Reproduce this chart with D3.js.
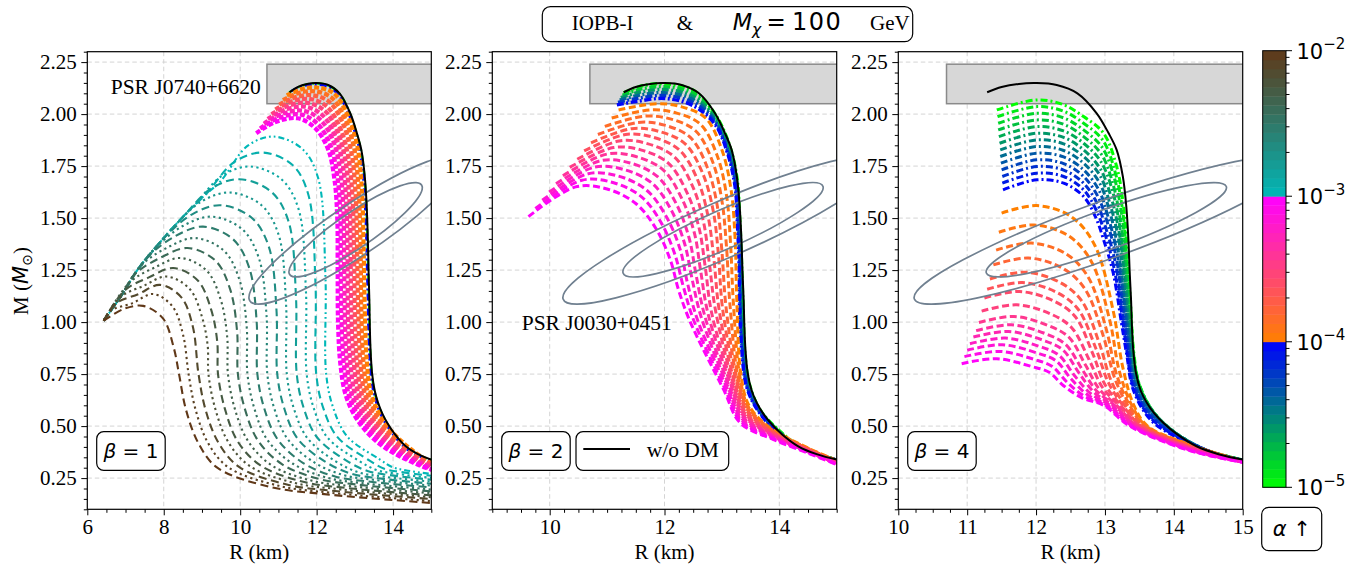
<!DOCTYPE html>
<html><head><meta charset="utf-8">
<script src="https://cdn.jsdelivr.net/npm/d3@7"></script>
<style>
html,body{margin:0;padding:0;background:#fff;}
svg{display:block;}
</style></head><body>
<svg id="fig" width="1371" height="567"></svg>
<script>
// ---------------- data : mass-radius sequences (R in km, M in solar masses) ----------------
// IOPB-I without dark matter
const noDM = [[11.29,2.105],[11.5,2.13],[11.75,2.145],[12.0,2.149],[12.3,2.14],[12.6,2.1],[12.88,2.004],[13.05,1.91],[13.17,1.828],[13.26,1.7],[13.31,1.556],[13.34,1.4],[13.36,1.236],[13.38,1.1],[13.39,0.996],[13.41,0.87],[13.45,0.755],[13.52,0.67],[13.61,0.611],[13.72,0.56],[13.85,0.515],[14.05,0.46],[14.33,0.403],[14.65,0.365],[15.0,0.339],[15.5,0.315]];

// beta = 1, alpha in [1e-5, 1e-4)
const alphaB1lo = [1.0e-5, 9.5e-5];
const curvesB1lo = [
 [[11.28,2.104],[11.5,2.128],[11.75,2.143],[12.0,2.147],[12.3,2.138],[12.6,2.098],[12.87,2.003],[13.04,1.909],[13.16,1.827],[13.25,1.7],[13.3,1.556],[13.33,1.4],[13.35,1.236],[13.37,1.1],[13.38,0.996],[13.4,0.87],[13.44,0.755],[13.51,0.668],[13.6,0.609],[13.71,0.558],[13.84,0.513],[14.04,0.458],[14.32,0.401],[14.64,0.363],[15.0,0.337],[15.5,0.313]],
 [[11.33,2.11],[11.55,2.13],[11.8,2.14],[12.0,2.142],[12.3,2.132],[12.58,2.09],[12.85,1.995],[13.02,1.9],[13.13,1.82],[13.22,1.69],[13.27,1.55],[13.3,1.4],[13.32,1.236],[13.34,1.1],[13.35,0.996],[13.37,0.87],[13.41,0.755],[13.48,0.67],[13.57,0.608],[13.68,0.556],[13.81,0.511],[14.02,0.455],[14.3,0.398],[14.63,0.36],[15.0,0.334],[15.5,0.311]]
];

// beta = 1, alpha in [1e-4, 1e-3)
const alphaB1mid = [1.0e-4, 1.33e-4, 1.76e-4, 2.33e-4, 3.09e-4, 4.1e-4, 5.43e-4, 7.2e-4, 9.55e-4];
const curvesB1mid = [
 [[11.22,2.09],[11.6,2.12],[12.0,2.128],[12.45,2.1],[12.8,2.0],[13.05,1.86],[13.18,1.65],[13.23,1.35],[13.26,1.05],[13.31,0.82],[13.42,0.66],[13.7,0.54],[14.2,0.43],[15,0.327],[15.5,0.31]],
 [[11.12,2.067],[11.51,2.1],[11.94,2.11],[12.39,2.079],[12.74,1.979],[12.98,1.838],[13.1,1.631],[13.15,1.338],[13.17,1.044],[13.22,0.818],[13.34,0.658],[13.63,0.537],[14.14,0.427],[15,0.322],[15.5,0.306]],
 [[11.02,2.045],[11.43,2.08],[11.88,2.091],[12.33,2.059],[12.68,1.958],[12.91,1.815],[13.02,1.613],[13.06,1.325],[13.09,1.038],[13.14,0.815],[13.26,0.656],[13.56,0.534],[14.08,0.423],[15,0.318],[15.5,0.301]],
 [[10.92,2.022],[11.34,2.06],[11.81,2.073],[12.26,2.038],[12.61,1.936],[12.83,1.793],[12.94,1.594],[12.98,1.313],[13.0,1.031],[13.05,0.813],[13.18,0.654],[13.48,0.531],[14.02,0.42],[15,0.313],[15.5,0.297]],
 [[10.82,1.999],[11.25,2.04],[11.75,2.054],[12.2,2.018],[12.55,1.915],[12.76,1.77],[12.86,1.575],[12.89,1.3],[12.91,1.025],[12.97,0.81],[13.1,0.652],[13.41,0.528],[13.97,0.417],[15,0.309],[15.5,0.293]],
 [[10.72,1.976],[11.16,2.02],[11.69,2.036],[12.14,1.997],[12.49,1.894],[12.69,1.748],[12.78,1.556],[12.81,1.288],[12.82,1.019],[12.88,0.808],[13.01,0.649],[13.34,0.524],[13.91,0.413],[15,0.304],[15.5,0.288]],
 [[10.62,1.954],[11.08,2.0],[11.63,2.017],[12.08,1.976],[12.43,1.873],[12.62,1.725],[12.7,1.538],[12.72,1.275],[12.74,1.013],[12.79,0.805],[12.93,0.647],[13.27,0.521],[13.85,0.41],[15,0.3],[15.5,0.284]],
 [[10.52,1.931],[10.99,1.98],[11.56,1.999],[12.01,1.956],[12.36,1.851],[12.54,1.703],[12.62,1.519],[12.63,1.263],[12.65,1.006],[12.71,0.803],[12.85,0.645],[13.19,0.518],[13.79,0.406],[15,0.295],[15.5,0.279]],
 [[10.42,1.908],[10.9,1.96],[11.5,1.98],[11.95,1.935],[12.3,1.83],[12.47,1.68],[12.54,1.5],[12.55,1.25],[12.56,1.0],[12.62,0.8],[12.77,0.643],[13.12,0.515],[13.73,0.403],[15,0.29],[15.5,0.275]]
];

// beta = 1, alpha in [1e-3, 1e-2]
const alphaB1hi = [1.0e-3, 1.17e-3, 1.36e-3, 1.58e-3, 1.85e-3, 2.15e-3, 2.51e-3, 2.93e-3, 3.41e-3, 3.98e-3, 4.64e-3, 5.41e-3, 6.31e-3, 7.36e-3, 8.58e-3, 1.0e-2];
const curvesB1hi = [
 [[6.43,1.007],[6.9,1.13],[7.3,1.248],[7.75,1.35],[8.17,1.44],[8.6,1.525],[9.04,1.604],[9.5,1.68],[10.19,1.847],[10.87,1.892],[11.63,1.832],[12.04,1.692],[12.23,1.221],[12.25,0.75],[12.43,0.59],[12.8,0.45],[13.65,0.34],[13.99,0.302],[14.33,0.288],[15,0.27],[15.6,0.26]],
 [[6.43,1.007],[6.9,1.13],[7.3,1.248],[7.75,1.35],[8.17,1.44],[8.6,1.525],[9.1,1.614],[9.85,1.77],[10.6,1.815],[11.37,1.755],[11.78,1.615],[11.97,1.183],[11.99,0.75],[12.17,0.589],[12.54,0.448],[13.36,0.337],[13.77,0.295],[14.18,0.28],[15,0.261],[15.6,0.251]],
 [[6.43,1.007],[6.9,1.13],[7.3,1.248],[7.75,1.35],[8.17,1.44],[8.78,1.557],[9.52,1.703],[10.25,1.748],[11.07,1.688],[11.52,1.548],[11.72,1.149],[11.74,0.75],[11.92,0.589],[12.28,0.446],[13.09,0.335],[13.57,0.289],[14.05,0.272],[15,0.251],[15.6,0.241]],
 [[6.43,1.007],[6.9,1.13],[7.3,1.248],[7.75,1.35],[8.17,1.44],[8.5,1.505],[9.24,1.642],[9.98,1.687],[10.81,1.627],[11.26,1.487],[11.46,1.119],[11.48,0.75],[11.66,0.588],[12.02,0.444],[12.8,0.332],[13.35,0.283],[13.9,0.265],[15,0.242],[15.6,0.232]],
 [[6.43,1.007],[6.9,1.13],[7.3,1.248],[7.75,1.35],[8.22,1.45],[8.97,1.578],[9.72,1.623],[10.55,1.563],[11.0,1.423],[11.2,1.087],[11.22,0.75],[11.4,0.587],[11.76,0.442],[12.51,0.329],[13.13,0.276],[13.76,0.257],[15,0.233],[15.6,0.223]],
 [[6.43,1.007],[6.9,1.13],[7.3,1.248],[7.98,1.399],[8.73,1.517],[9.48,1.562],[10.3,1.502],[10.75,1.362],[10.95,1.056],[10.97,0.75],[11.15,0.587],[11.5,0.44],[12.24,0.327],[12.93,0.27],[13.62,0.249],[15,0.223],[15.6,0.213]],
 [[6.43,1.007],[6.9,1.13],[7.3,1.248],[7.76,1.353],[8.5,1.462],[9.25,1.507],[10.05,1.447],[10.49,1.307],[10.69,1.029],[10.71,0.75],[10.89,0.586],[11.24,0.438],[11.95,0.324],[12.71,0.264],[13.48,0.242],[15,0.214],[15.6,0.204]],
 [[6.43,1.007],[6.9,1.13],[7.59,1.314],[8.31,1.414],[9.03,1.459],[9.81,1.399],[10.24,1.259],[10.43,1.005],[10.45,0.75],[10.63,0.585],[10.98,0.436],[11.66,0.321],[12.5,0.257],[13.33,0.234],[15,0.205],[15.6,0.195]],
 [[6.43,1.007],[6.9,1.13],[7.39,1.269],[8.1,1.359],[8.82,1.404],[9.57,1.344],[9.98,1.204],[10.17,0.977],[10.19,0.75],[10.37,0.585],[10.71,0.434],[11.38,0.319],[12.29,0.251],[13.19,0.226],[15,0.195],[15.6,0.185]],
 [[6.43,1.007],[6.9,1.13],[7.24,1.23],[7.93,1.311],[8.62,1.356],[9.35,1.296],[9.74,1.156],[9.92,0.953],[9.94,0.75],[10.12,0.584],[10.46,0.432],[11.1,0.316],[12.08,0.245],[13.05,0.219],[15,0.186],[15.6,0.176]],
 [[6.43,1.007],[7.11,1.191],[7.77,1.263],[8.43,1.308],[9.12,1.248],[9.49,1.108],[9.66,0.929],[9.68,0.75],[9.86,0.583],[10.2,0.43],[10.81,0.313],[11.86,0.238],[12.91,0.211],[15,0.177],[15.6,0.167]],
 [[6.43,1.007],[6.98,1.153],[7.61,1.215],[8.25,1.26],[8.89,1.2],[9.24,1.06],[9.4,0.905],[9.42,0.75],[9.6,0.583],[9.93,0.428],[10.53,0.311],[11.65,0.232],[12.77,0.203],[15,0.167],[15.6,0.157]],
 [[6.43,1.007],[6.87,1.121],[7.47,1.174],[8.07,1.219],[8.68,1.159],[9.01,1.019],[9.15,0.885],[9.17,0.75],[9.35,0.582],[9.68,0.426],[10.25,0.308],[11.44,0.226],[12.63,0.196],[15,0.158],[15.6,0.148]],
 [[6.43,1.007],[6.75,1.09],[7.33,1.134],[7.9,1.179],[8.46,1.119],[8.76,0.979],[8.91,0.75],[9.09,0.581],[9.42,0.424],[9.96,0.305],[11.22,0.219],[12.48,0.188],[15,0.149],[15.6,0.139]],
 [[6.43,1.007],[6.62,1.056],[7.17,1.09],[7.72,1.135],[8.23,1.075],[8.51,0.935],[8.65,0.75],[8.83,0.581],[9.15,0.422],[9.68,0.303],[11.01,0.213],[12.34,0.18],[15,0.139],[15.6,0.129]],
 [[6.43,1.007],[6.95,1.063],[7.46,1.078],[7.98,1.018],[8.26,0.878],[8.4,0.75],[8.58,0.58],[8.9,0.42],[9.4,0.3],[10.8,0.207],[12.2,0.173],[15,0.13],[15.6,0.12]]
];

// beta = 2, alpha in [1e-5, 1e-4)
const alphaB2lo = [1.0e-5, 1.57e-5, 2.47e-5, 3.87e-5, 6.08e-5, 9.55e-5];
const curvesB2lo = [
 [[11.29,2.102],[11.6,2.135],[12.0,2.146],[12.5,2.115],[12.88,2.0],[13.12,1.86],[13.26,1.697],[13.31,1.5],[13.34,1.3],[13.37,1.05],[13.4,0.85],[13.48,0.7],[13.66,0.58],[13.95,0.49],[14.4,0.395],[15,0.337]],
 [[11.27,2.09],[11.58,2.12],[12.0,2.132],[12.5,2.1],[12.88,1.99],[13.12,1.85],[13.25,1.688],[13.3,1.494],[13.33,1.294],[13.36,1.05],[13.39,0.85],[13.47,0.7],[13.64,0.584],[13.93,0.492],[14.38,0.396],[15,0.337]],
 [[11.24,2.079],[11.56,2.105],[12.0,2.118],[12.5,2.085],[12.88,1.98],[13.11,1.84],[13.25,1.678],[13.29,1.488],[13.32,1.288],[13.35,1.05],[13.38,0.85],[13.46,0.7],[13.62,0.588],[13.91,0.494],[14.36,0.398],[15,0.337]],
 [[11.22,2.067],[11.54,2.09],[12.0,2.103],[12.5,2.07],[12.88,1.97],[13.11,1.83],[13.24,1.669],[13.29,1.482],[13.32,1.282],[13.33,1.05],[13.37,0.85],[13.44,0.7],[13.61,0.592],[13.89,0.496],[14.34,0.4],[15,0.336]],
 [[11.19,2.056],[11.52,2.075],[12.0,2.089],[12.5,2.055],[12.88,1.96],[13.1,1.82],[13.24,1.66],[13.28,1.476],[13.31,1.276],[13.32,1.05],[13.36,0.85],[13.43,0.7],[13.59,0.596],[13.87,0.498],[14.32,0.402],[15,0.336]],
 [[11.17,2.044],[11.5,2.06],[12.0,2.075],[12.5,2.04],[12.88,1.95],[13.1,1.81],[13.23,1.65],[13.27,1.47],[13.3,1.27],[13.31,1.05],[13.35,0.85],[13.42,0.7],[13.57,0.6],[13.85,0.5],[14.3,0.402],[15,0.336]]
];

// beta = 2, alpha in [1e-4, 1e-3)
const alphaB2mid = [1.0e-4, 1.19e-4, 1.42e-4, 1.69e-4, 2.01e-4, 2.39e-4, 2.85e-4, 3.39e-4, 4.03e-4, 4.8e-4, 5.72e-4, 6.8e-4, 8.1e-4, 9.64e-4];
const curvesB2mid = [
 [[11.2,2.02],[11.87,2.05],[12.3,2.035],[12.72,1.98],[13.0,1.828],[13.16,1.636],[13.23,1.4],[13.26,1.1],[13.33,0.75],[13.47,0.6],[13.8,0.5],[14.5,0.395],[15,0.335]],
 [[11.08,1.981],[11.76,2.02],[12.2,2.006],[12.63,1.95],[12.92,1.799],[13.08,1.61],[13.15,1.381],[13.2,1.092],[13.31,0.744],[13.46,0.593],[13.81,0.495],[14.5,0.393],[15,0.333]],
 [[10.96,1.941],[11.65,1.99],[12.1,1.977],[12.54,1.92],[12.84,1.77],[13.0,1.584],[13.08,1.362],[13.14,1.085],[13.28,0.738],[13.45,0.587],[13.82,0.49],[14.5,0.391],[15,0.332]],
 [[10.84,1.902],[11.54,1.96],[12.0,1.947],[12.45,1.888],[12.75,1.741],[12.92,1.558],[13.0,1.342],[13.07,1.077],[13.26,0.733],[13.44,0.58],[13.82,0.485],[14.5,0.389],[15,0.331]],
 [[10.72,1.862],[11.43,1.93],[11.9,1.917],[12.36,1.857],[12.67,1.712],[12.85,1.533],[12.94,1.323],[13.01,1.069],[13.24,0.727],[13.43,0.574],[13.83,0.48],[14.5,0.388],[15,0.329]],
 [[10.6,1.823],[11.32,1.902],[11.8,1.889],[12.26,1.827],[12.58,1.682],[12.76,1.507],[12.86,1.304],[12.95,1.062],[13.21,0.721],[13.41,0.567],[13.84,0.475],[14.5,0.386],[15,0.327]],
 [[10.48,1.783],[11.21,1.871],[11.7,1.858],[12.17,1.795],[12.49,1.653],[12.68,1.481],[12.78,1.285],[12.89,1.054],[13.19,0.715],[13.4,0.561],[13.85,0.47],[14.5,0.384],[15,0.326]],
 [[10.35,1.744],[11.11,1.839],[11.6,1.827],[12.07,1.763],[12.39,1.624],[12.6,1.455],[12.71,1.265],[12.82,1.046],[13.17,0.71],[13.39,0.554],[13.85,0.465],[14.5,0.382],[15,0.324]],
 [[10.23,1.704],[11.0,1.808],[11.5,1.796],[11.98,1.731],[12.3,1.595],[12.52,1.429],[12.63,1.246],[12.76,1.038],[13.15,0.704],[13.38,0.548],[13.86,0.46],[14.5,0.38],[15,0.323]],
 [[10.11,1.665],[10.89,1.776],[11.4,1.765],[11.88,1.699],[12.21,1.566],[12.43,1.403],[12.55,1.227],[12.7,1.031],[13.12,0.698],[13.37,0.541],[13.87,0.455],[14.5,0.378],[15,0.321]],
 [[9.99,1.625],[10.78,1.745],[11.3,1.733],[11.79,1.666],[12.12,1.537],[12.35,1.378],[12.48,1.208],[12.64,1.023],[13.1,0.692],[13.35,0.535],[13.88,0.45],[14.5,0.377],[15,0.32]],
 [[9.87,1.586],[10.67,1.713],[11.2,1.702],[11.69,1.634],[12.03,1.508],[12.27,1.352],[12.4,1.188],[12.57,1.015],[13.08,0.687],[13.34,0.528],[13.88,0.445],[14.5,0.375],[15,0.318]],
 [[9.75,1.546],[10.56,1.682],[11.1,1.671],[11.6,1.602],[11.94,1.479],[12.18,1.326],[12.33,1.169],[12.51,1.008],[13.05,0.681],[13.33,0.522],[13.89,0.44],[14.5,0.373],[15,0.317]],
 [[9.63,1.507],[10.45,1.65],[11.0,1.64],[11.5,1.57],[11.85,1.45],[12.1,1.3],[12.25,1.15],[12.45,1.0],[13.03,0.675],[13.32,0.515],[13.9,0.435],[14.49,0.371],[15,0.315]]
];

// beta = 4, alpha in [1e-5, 1e-4)
const alphaB4lo = [1.0e-5, 1.21e-5, 1.46e-5, 1.76e-5, 2.12e-5, 2.56e-5, 3.09e-5, 3.73e-5, 4.51e-5, 5.44e-5, 6.56e-5, 7.92e-5, 9.56e-5];
const curvesB4lo = [
 [[11.43,2.02],[12.01,2.068],[12.4,2.045],[12.69,1.988],[12.98,1.908],[13.17,1.748],[13.27,1.556],[13.32,1.363],[13.37,1.1],[13.42,0.85],[13.5,0.7],[13.75,0.545],[14.33,0.402],[15,0.338]],
 [[11.44,1.988],[12.01,2.036],[12.4,2.014],[12.69,1.956],[12.97,1.874],[13.15,1.719],[13.26,1.529],[13.31,1.332],[13.37,1.078],[13.42,0.835],[13.51,0.686],[13.78,0.536],[14.35,0.399],[15,0.338]],
 [[11.45,1.956],[12.01,2.004],[12.4,1.982],[12.69,1.924],[12.96,1.84],[13.14,1.689],[13.25,1.503],[13.31,1.302],[13.36,1.056],[13.42,0.821],[13.53,0.672],[13.81,0.527],[14.38,0.396],[15,0.337]],
 [[11.45,1.924],[12.01,1.972],[12.4,1.951],[12.69,1.892],[12.95,1.806],[13.12,1.66],[13.23,1.476],[13.3,1.271],[13.36,1.034],[13.42,0.806],[13.54,0.658],[13.84,0.518],[14.4,0.394],[15,0.337]],
 [[11.46,1.892],[12.01,1.94],[12.4,1.919],[12.69,1.86],[12.94,1.772],[13.11,1.631],[13.22,1.449],[13.29,1.24],[13.35,1.012],[13.42,0.792],[13.55,0.644],[13.87,0.508],[14.42,0.391],[15,0.337]],
 [[11.47,1.86],[12.01,1.908],[12.4,1.888],[12.69,1.828],[12.93,1.738],[13.09,1.601],[13.21,1.423],[13.29,1.21],[13.35,0.99],[13.42,0.777],[13.57,0.63],[13.9,0.499],[14.44,0.388],[15,0.336]],
 [[11.48,1.828],[12.01,1.876],[12.4,1.857],[12.69,1.796],[12.93,1.704],[13.07,1.572],[13.2,1.396],[13.28,1.179],[13.35,0.968],[13.41,0.763],[13.58,0.616],[13.93,0.49],[14.47,0.385],[15,0.336]],
 [[11.48,1.796],[12.01,1.844],[12.4,1.825],[12.69,1.764],[12.92,1.67],[13.06,1.543],[13.18,1.369],[13.27,1.148],[13.34,0.945],[13.41,0.748],[13.59,0.601],[13.95,0.481],[14.49,0.382],[15,0.335]],
 [[11.49,1.764],[12.01,1.812],[12.4,1.794],[12.69,1.732],[12.91,1.636],[13.04,1.513],[13.17,1.343],[13.27,1.118],[13.34,0.923],[13.41,0.733],[13.61,0.587],[13.98,0.472],[14.51,0.379],[15,0.335]],
 [[11.5,1.732],[12.01,1.78],[12.4,1.762],[12.69,1.7],[12.9,1.602],[13.03,1.484],[13.16,1.316],[13.26,1.087],[13.33,0.901],[13.41,0.719],[13.62,0.573],[14.01,0.463],[14.53,0.377],[15,0.334]],
 [[11.51,1.7],[12.01,1.748],[12.4,1.731],[12.69,1.668],[12.89,1.568],[13.01,1.455],[13.15,1.289],[13.25,1.056],[13.33,0.879],[13.41,0.704],[13.63,0.559],[14.04,0.453],[14.56,0.374],[15,0.334]],
 [[11.51,1.668],[12.01,1.716],[12.4,1.7],[12.69,1.636],[12.88,1.534],[13.0,1.425],[13.13,1.263],[13.25,1.026],[13.32,0.857],[13.41,0.69],[13.65,0.545],[14.07,0.444],[14.58,0.371],[15,0.333]],
 [[11.52,1.636],[12.01,1.684],[12.4,1.668],[12.69,1.604],[12.87,1.5],[12.98,1.396],[13.12,1.236],[13.24,0.995],[13.32,0.835],[13.41,0.675],[13.66,0.531],[14.1,0.435],[14.6,0.368],[15,0.333]]
];

// beta = 4, alpha in [1e-4, 1e-3)
const alphaB4mid = [1.0e-4, 1.18e-4, 1.38e-4, 1.62e-4, 1.91e-4, 2.24e-4, 2.63e-4, 3.09e-4, 3.63e-4, 4.27e-4, 5.01e-4, 5.89e-4, 6.92e-4, 8.13e-4, 9.55e-4];
const curvesB4mid = [
 [[11.5,1.524],[12.01,1.56],[12.51,1.507],[12.85,1.371],[13.12,1.054],[13.26,0.781],[13.42,0.6],[13.62,0.5],[14.2,0.415],[15,0.332]],
 [[11.46,1.432],[11.97,1.467],[12.47,1.415],[12.8,1.293],[13.07,1.008],[13.21,0.763],[13.39,0.6],[13.6,0.5],[14.2,0.413],[15,0.332]],
 [[11.42,1.346],[11.93,1.38],[12.43,1.329],[12.75,1.22],[13.02,0.965],[13.17,0.746],[13.36,0.6],[13.58,0.5],[14.2,0.411],[15,0.331]],
 [[11.38,1.275],[11.89,1.308],[12.39,1.258],[12.71,1.159],[12.98,0.929],[13.14,0.732],[13.33,0.6],[13.56,0.5],[14.2,0.409],[15,0.331]],
 [[11.33,1.207],[11.84,1.24],[12.34,1.192],[12.66,1.103],[12.92,0.896],[13.09,0.718],[13.29,0.6],[13.55,0.5],[14.2,0.406],[15,0.33]],
 [[11.29,1.158],[11.8,1.19],[12.3,1.143],[12.61,1.062],[12.87,0.872],[13.05,0.709],[13.26,0.6],[13.53,0.5],[14.2,0.404],[15,0.33]],
 [[11.25,1.116],[11.76,1.147],[12.26,1.101],[12.57,1.026],[12.82,0.851],[13.0,0.7],[13.23,0.6],[13.51,0.5],[14.2,0.402],[15,0.329]],
 [[11.21,1.053],[11.72,1.083],[12.22,1.038],[12.52,0.972],[12.77,0.819],[12.96,0.688],[13.2,0.6],[13.49,0.5],[14.2,0.4],[15,0.329]],
 [[11.17,0.998],[11.68,1.027],[12.18,0.983],[12.48,0.926],[12.72,0.792],[12.92,0.677],[13.17,0.6],[13.47,0.5],[14.2,0.398],[15,0.329]],
 [[11.13,0.959],[11.64,0.987],[12.14,0.944],[12.43,0.892],[12.67,0.772],[12.88,0.669],[13.14,0.6],[13.45,0.5],[14.2,0.396],[15,0.328]],
 [[11.09,0.928],[11.6,0.955],[12.1,0.913],[12.39,0.866],[12.62,0.757],[12.84,0.663],[13.11,0.6],[13.43,0.5],[14.2,0.394],[15,0.328]],
 [[11.04,0.896],[11.55,0.923],[12.05,0.883],[12.33,0.841],[12.56,0.742],[12.79,0.657],[13.07,0.6],[13.42,0.5],[14.2,0.391],[15,0.327]],
 [[11.0,0.865],[11.51,0.891],[12.01,0.852],[12.29,0.814],[12.51,0.726],[12.75,0.65],[13.04,0.6],[13.4,0.5],[14.2,0.389],[15,0.327]],
 [[10.96,0.834],[11.47,0.859],[11.97,0.821],[12.23,0.788],[12.45,0.711],[12.7,0.644],[13.01,0.6],[13.38,0.5],[14.2,0.387],[15,0.326]],
 [[10.92,0.8],[11.43,0.824],[11.93,0.787],[12.19,0.759],[12.4,0.694],[12.66,0.637],[12.98,0.6],[13.36,0.5],[14.2,0.385],[15,0.326]]
];

// observational constraints
const psrJ0740 = [10.7, 16.0, 2.05, 2.24];                 // R min, R max, M min, M max
const psrJ0030Centre = [13.02, 1.444];                      // R, M
const psrJ0030Inner = [[1.742, 0.208], [0.099, -0.090]];   // conjugate semi-axes (dR, dM)
const psrJ0030Outer = [[2.787, 0.333], [0.144, -0.130]];

// axes
const xTicksB1 = [6, 8, 10, 12, 14];
const xTicksB2 = [10, 12, 14];
const xTicksB4 = [10, 11, 12, 13, 14, 15];
const yTicks = [0.25, 0.50, 0.75, 1.00, 1.25, 1.50, 1.75, 2.00, 2.25];
const cbTicks = [1e-5, 1e-4, 1e-3, 1e-2];
const betaLabels = ['1', '2', '4'];

// ---------------- drawing ----------------
const SERIF = '"Liberation Serif","Times New Roman",serif';
const SANS = '"DejaVu Sans",sans-serif';
const svg = d3.select('#fig');

const plotTop = 51.7, plotBottom = 509.3;
const y = d3.scaleLinear().domain([0.1, 2.3]).range([plotBottom, plotTop]);

// piecewise colour map: one linear ramp per decade of alpha
const ramps = {
  '-5': [[0, 255, 0], [0, 0, 255]],
  '-4': [[255, 128, 0], [255, 0, 255]],
  '-3': [[0, 184, 184], [96, 56, 24]]
};
function alphaColor(a) {
  const l = Math.log10(a);
  let d = Math.floor(l + 1e-9), f = l - d;
  if (d >= -2) { d = -3; f = 1; }
  if (d < -5) { d = -5; f = 0; }
  if (f < 0) f = 0;
  const [c0, c1] = ramps[String(d)];
  return d3.rgb(c0[0] + (c1[0] - c0[0]) * f, c0[1] + (c1[1] - c0[1]) * f, c0[2] + (c1[2] - c0[2]) * f).formatHex();
}

const dashes = {
  dashed: '7,3.5',
  dashedThick: '5,2.2',
  dashdot: '7,3,2,3',
  dotted: '2.2,3.4',
  dashdotdot: '6,3,1.8,3,1.8,3',
  longdash: '8,4.5'
};

const panels = [
  { x0: 87.3, x1: 431.3, dom: [6, 15], ticks: xTicksB1, minor: 0.5,
    groups: [
      { curves: curvesB1lo, alphas: alphaB1lo, width: 2.4, dash: () => dashes.dashdot },
      { curves: curvesB1mid, alphas: alphaB1mid, width: 4.2, dash: () => dashes.dashedThick },
      { curves: curvesB1hi, alphas: alphaB1hi, width: 2.1, dash: i => i === 0 ? dashes.dashdotdot : (i % 2 ? dashes.longdash : dashes.dotted) }
    ] },
  { x0: 492.3, x1: 836.7, dom: [9, 15], ticks: xTicksB2, minor: 0.25,
    groups: [
      { curves: curvesB2lo, alphas: alphaB2lo, width: 3.4, dash: () => '7,2.5,2,2.5' },
      { curves: curvesB2mid, alphas: alphaB2mid, width: 3.0, dash: () => dashes.dashed }
    ] },
  { x0: 898.3, x1: 1242.7, dom: [10, 15], ticks: xTicksB4, minor: 0.25,
    groups: [
      { curves: curvesB4lo, alphas: alphaB4lo, width: 3.0, dash: () => dashes.dashdot },
      { curves: curvesB4mid, alphas: alphaB4mid, width: 3.0, dash: () => dashes.dashed }
    ] }
];

panels.forEach((p, pi) => {
  const x = d3.scaleLinear().domain(p.dom).range([p.x0, p.x1]);
  const g = svg.append('g');
  const clipId = 'clip' + pi;
  svg.append('clipPath').attr('id', clipId).append('rect')
    .attr('x', p.x0).attr('y', plotTop).attr('width', p.x1 - p.x0).attr('height', plotBottom - plotTop);

  // grid
  const grid = g.append('g').attr('stroke', '#cfcfcf').attr('stroke-width', 0.9).attr('stroke-dasharray', '4.5,3');
  p.ticks.filter(t => t > p.dom[0] && t < p.dom[1]).forEach(t => {
    grid.append('line').attr('x1', x(t)).attr('x2', x(t)).attr('y1', plotTop).attr('y2', plotBottom);
  });
  yTicks.forEach(t => {
    grid.append('line').attr('x1', p.x0).attr('x2', p.x1).attr('y1', y(t)).attr('y2', y(t));
  });

  const inner = g.append('g').attr('clip-path', `url(#${clipId})`);

  // PSR J0740+6620 mass band
  inner.append('rect')
    .attr('x', x(psrJ0740[0])).attr('y', y(psrJ0740[3]))
    .attr('width', x(psrJ0740[1]) - x(psrJ0740[0])).attr('height', y(psrJ0740[2]) - y(psrJ0740[3]))
    .attr('fill', '#d7d7d7').attr('stroke', '#8a8a8a').attr('stroke-width', 1.5);

  // dark-matter admixed sequences
  const line = d3.line().x(d => x(d[0])).y(d => y(d[1])).curve(d3.curveCatmullRom.alpha(0.5));
  p.groups.forEach(gr => {
    inner.append('g').selectAll('path').data(gr.curves).join('path')
      .attr('d', line)
      .attr('fill', 'none')
      .attr('stroke', (d, i) => alphaColor(gr.alphas[i]))
      .attr('stroke-width', gr.width)
      .attr('stroke-dasharray', (d, i) => gr.dash(i));
  });

  // PSR J0030+0451 contours
  const kx = x(1) - x(0), ky = y(1) - y(0);
  [psrJ0030Inner, psrJ0030Outer].forEach(ax => {
    inner.append('circle').attr('cx', 0).attr('cy', 0).attr('r', 1)
      .attr('transform', `matrix(${kx * ax[0][0]},${ky * ax[0][1]},${kx * ax[1][0]},${ky * ax[1][1]},${x(psrJ0030Centre[0])},${y(psrJ0030Centre[1])})`)
      .attr('fill', 'none').attr('stroke', '#708090').attr('stroke-width', 1.7)
      .attr('vector-effect', 'non-scaling-stroke');
  });

  // no dark matter
  inner.append('path').datum(noDM).attr('d', line)
    .attr('fill', 'none').attr('stroke', '#000').attr('stroke-width', 2);

  // axes
  const xAxis = d3.axisBottom(x).tickValues(p.ticks).tickSize(6).tickPadding(4).tickFormat(d3.format('d'));
  const xMinor = d3.axisBottom(x).tickValues(d3.range(p.dom[0], p.dom[1] + 1e-6, p.minor).filter(v => !p.ticks.includes(v))).tickSize(3.5).tickFormat('');
  const yAxis = d3.axisLeft(y).tickValues(yTicks).tickSize(6).tickPadding(4.5).tickFormat(d3.format('.2f'));
  const yMinor = d3.axisLeft(y).tickValues(d3.range(0.1, 2.3001, 0.05).map(v => +v.toFixed(2)).filter(v => !yTicks.some(t => Math.abs(t - v) < 1e-6))).tickSize(3.5).tickFormat('');

  [[xAxis, 'b'], [xMinor, 'b'], [yAxis, 'l'], [yMinor, 'l']].forEach(([ax, side]) => {
    const a = g.append('g')
      .attr('transform', side === 'b' ? `translate(0,${plotBottom})` : `translate(${p.x0},0)`)
      .call(ax);
    a.select('.domain').remove();
    a.selectAll('line').attr('stroke', '#000').attr('stroke-width', 1);
    a.selectAll('text').attr('font-family', SERIF).attr('font-size', 21).attr('fill', '#000');
  });

  g.append('rect').attr('x', p.x0).attr('y', plotTop).attr('width', p.x1 - p.x0).attr('height', plotBottom - plotTop)
    .attr('fill', 'none').attr('stroke', '#000').attr('stroke-width', 1.2);

  // x label
  g.append('text').attr('x', (p.x0 + p.x1) / 2).attr('y', 558.5).attr('text-anchor', 'middle')
    .attr('font-family', SERIF).attr('font-size', 21).text('R (km)');

  // beta label box
  const bx = p.x0 + 9.4, by = 431.7, bw = 68.5, bh = 38.6;
  g.append('rect').attr('x', bx).attr('y', by).attr('width', bw).attr('height', bh).attr('rx', 7)
    .attr('fill', '#fff').attr('stroke', '#000').attr('stroke-width', 1.2);
  const bt = g.append('text').attr('x', bx + bw / 2).attr('y', by + 26.5).attr('text-anchor', 'middle')
    .attr('font-family', SANS).attr('font-size', 20);
  bt.append('tspan').attr('font-style', 'italic').text('β');
  bt.append('tspan').text(' = ' + betaLabels[pi]);
});

// y label
const yl = svg.append('text').attr('transform', 'translate(28,281) rotate(-90)').attr('text-anchor', 'middle')
  .attr('font-size', 21);
yl.append('tspan').attr('font-family', SERIF).text('M (');
yl.append('tspan').attr('font-family', SANS).attr('font-style', 'italic').text('M');
yl.append('tspan').attr('font-family', SANS).attr('font-size', 14).attr('dy', 4).text('⊙');
yl.append('tspan').attr('font-family', SERIF).attr('dy', -4).text(')');

// annotations
svg.append('text').attr('x', 110.7).attr('y', 93.5).attr('font-family', SERIF).attr('font-size', 21.5).text('PSR J0740+6620');
svg.append('text').attr('x', 521.7).attr('y', 330).attr('font-family', SERIF).attr('font-size', 21.5).text('PSR J0030+0451');

// legend (beta = 2 panel)
svg.append('rect').attr('x', 576).attr('y', 431.7).attr('width', 152.7).attr('height', 38.6).attr('rx', 7)
  .attr('fill', '#fff').attr('stroke', '#000').attr('stroke-width', 1.2);
svg.append('line').attr('x1', 583.3).attr('x2', 630).attr('y1', 449).attr('y2', 449).attr('stroke', '#000').attr('stroke-width', 2.2);
svg.append('text').attr('x', 646.7).attr('y', 457).attr('font-family', SERIF).attr('font-size', 21.5).text('w/o DM');

// title box
svg.append('rect').attr('x', 542.3).attr('y', 6.7).attr('width', 370.4).attr('height', 35).attr('rx', 8)
  .attr('fill', '#fff').attr('stroke', '#000').attr('stroke-width', 1.2);
svg.append('text').attr('x', 571.7).attr('y', 30).attr('font-family', SERIF).attr('font-size', 21).text('IOPB-I');
svg.append('text').attr('x', 676.7).attr('y', 30).attr('font-family', SERIF).attr('font-size', 21).text('&');
const tm = svg.append('text').attr('x', 732.7).attr('y', 30).attr('font-family', SANS).attr('font-size', 22.5);
tm.append('tspan').attr('font-style', 'italic').text('M');
tm.append('tspan').attr('font-style', 'italic').attr('font-size', 15.5).attr('dy', 4.5).text('χ');
svg.append('text').attr('x', 766.5).attr('y', 30).attr('font-family', SANS).attr('font-size', 23).text('=');
svg.append('text').attr('x', 792).attr('y', 30).attr('font-family', SANS).attr('font-size', 24)
  .attr('letter-spacing', 1.5).text('100');
svg.append('text').attr('x', 870).attr('y', 30).attr('font-family', SERIF).attr('font-size', 21).text('GeV');

// colour bar
const cbX = 1262.7, cbW = 23.3, cbTop = 50.7, cbBot = 487.3;
const cy = d3.scaleLog().domain([1e-5, 1e-2]).range([cbBot, cbTop]);
const cb = svg.append('g');
const nb = 16;
[-5, -4, -3].forEach(dec => {
  d3.range(nb).forEach(k => {
    const a0 = Math.pow(10, dec + k / nb), a1 = Math.pow(10, dec + (k + 1) / nb), am = Math.pow(10, dec + (k + 0.5) / nb);
    cb.append('rect').attr('x', cbX).attr('y', cy(a1)).attr('width', cbW).attr('height', cy(a0) - cy(a1) + 0.4)
      .attr('fill', alphaColor(am));
  });
});
cb.append('rect').attr('x', cbX).attr('y', cbTop).attr('width', cbW).attr('height', cbBot - cbTop)
  .attr('fill', 'none').attr('stroke', '#000').attr('stroke-width', 1);
[-5, -4, -3].forEach(dec => {
  d3.range(2, 10).forEach(m => {
    const v = m * Math.pow(10, dec);
    cb.append('line').attr('x1', cbX + cbW).attr('x2', cbX + cbW + 3.5).attr('y1', cy(v)).attr('y2', cy(v)).attr('stroke', '#000');
  });
});
cbTicks.forEach(t => {
  cb.append('line').attr('x1', cbX + cbW).attr('x2', cbX + cbW + 6).attr('y1', cy(t)).attr('y2', cy(t)).attr('stroke', '#000');
  const tx = cb.append('text').attr('x', 1296.5).attr('y', cy(t) + 8).attr('font-family', SANS).attr('font-size', 21);
  tx.append('tspan').text('10');
  tx.append('tspan').attr('font-size', 15).attr('dy', -9.5).text('−' + Math.round(-Math.log10(t)));
});
// alpha arrow label
svg.append('rect').attr('x', 1261.7).attr('y', 507.3).attr('width', 60).attr('height', 43.4).attr('rx', 7)
  .attr('fill', '#fff').attr('stroke', '#000').attr('stroke-width', 1.2);
const al = svg.append('text').attr('x', 1291.7).attr('y', 536).attr('text-anchor', 'middle').attr('font-family', SANS).attr('font-size', 21);
al.append('tspan').attr('font-style', 'italic').text('α');
al.append('tspan').text(' ↑');
</script>
</body></html>
